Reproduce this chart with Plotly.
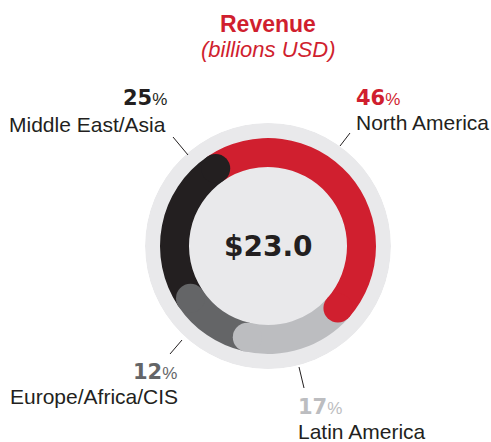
import plotly.graph_objects as go

W, H = 491, 442

regions = ["North America", "Latin America", "Europe/Africa/CIS", "Middle East/Asia"]
shares = [46, 17, 12, 25]
seg_colors = ["#d01f2f", "#bcbdc0", "#646567", "#231f20"]
pct_colors = ["#d01f2f", "#bcbdc0", "#646567", "#231f20"]
total_label = "$23.0"
title = "Revenue"
subtitle = "(billions USD)"

# geometry in pixels (radial axis is set up so 1 unit = 1 px)
cx, cy = 268, 246
disk_r = 123
ring_in, ring_w = 79, 29

def px(x, y):
    return x / W, 1 - y / H

# angles, clockwise from the ring start
starts, ends = [], []
acc = 0
for s in shares:
    starts.append(acc * 3.6)
    acc += s
    ends.append(acc * 3.6)
mids = [(a + b) / 2 for a, b in zip(starts, ends)]
widths = [b - a for a, b in zip(starts, ends)]

fig = go.Figure()

# light grey background disk
fig.add_trace(go.Barpolar(r=[disk_r], theta=[180], width=[360], base=[0],
                          marker=dict(color="#e9e9eb", line=dict(width=0)),
                          hoverinfo="skip"))
# ring segments
fig.add_trace(go.Barpolar(r=[ring_w] * len(shares), theta=mids, width=widths,
                          base=[ring_in] * len(shares),
                          marker=dict(color=seg_colors, line=dict(width=0)),
                          hoverinfo="skip"))
# rounded end caps
fig.add_trace(go.Scatterpolar(r=[ring_in + ring_w / 2] * len(shares), theta=ends,
                              mode="markers",
                              marker=dict(size=ring_w, color=seg_colors, line=dict(width=0)),
                              hoverinfo="skip"))

x0, y1 = px(cx - disk_r, cy - disk_r)
x1, y0 = px(cx + disk_r, cy + disk_r)
fig.update_layout(
    width=W, height=H,
    margin=dict(l=0, r=0, t=0, b=0),
    paper_bgcolor="white",
    showlegend=False,
    polar=dict(
        domain=dict(x=[x0, x1], y=[y0, y1]),
        bgcolor="rgba(0,0,0,0)",
        radialaxis=dict(range=[0, disk_r], visible=False),
        angularaxis=dict(direction="clockwise", rotation=124, visible=False),
    ),
)

LAB = "Liberation Sans"
NUM = "DejaVu Sans"
ann = []

def text(x, y, s, size, color, family=LAB, xanchor="center", bold=False):
    X, Y = px(x, y)
    if bold:
        s = "<b>" + s + "</b>"
    ann.append(dict(x=X, y=Y, xref="paper", yref="paper", text=s, showarrow=False,
                    xanchor=xanchor, yanchor="middle",
                    font=dict(family=family, size=size, color=color)))

def pct(v):
    return "<b>%d</b><span style='font-size:17px;font-family:Liberation Sans'>%%</span>" % v

text(cx, 24, title, 23, "#d01f2f", bold=True)
text(cx, 49, "<i>" + subtitle + "</i>", 22, "#d01f2f")
text(cx, cy, total_label, 28, "#231f20", family=NUM, bold=True)

# label placements: (pct x, pct y, name x, name y, anchor)
places = [
    (354, 98, 354, 122, "left"),
    (296, 407, 296, 431, "left"),
    (179, 372, 180, 396, "right"),
    (169, 98, 168, 124, "right"),
]
for name, v, c, (px1, py1, px2, py2, anc) in zip(regions, shares, pct_colors, places):
    text(px1, py1, pct(v), 21, c, family=NUM, xanchor=anc)
    text(px2, py2, name, 21, "#231f20", xanchor=anc)

fig.update_layout(annotations=ann)

# leader lines
leaders = [((350, 133), (340, 146)), ((299, 367), (304, 388)),
           ((182, 340), (170, 354)), ((173, 137), (188, 155))]
for (a, b) in leaders:
    ax, ay = px(*a)
    bx, by = px(*b)
    fig.add_shape(type="line", xref="paper", yref="paper", x0=ax, y0=ay, x1=bx, y1=by,
                  line=dict(color="#231f20", width=1))

fig.write_html("out.html", config={"displayModeBar": False},
               post_script="document.body.style.margin='0';")
